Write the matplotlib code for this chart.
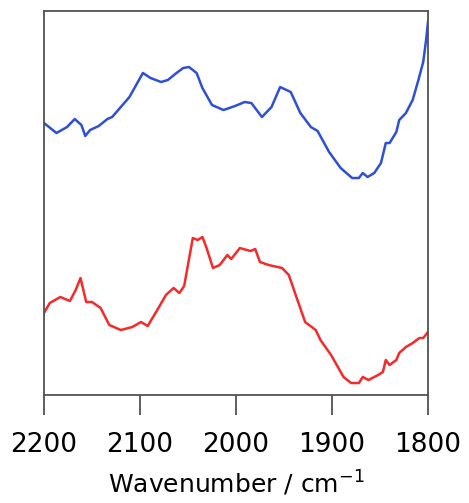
import numpy as np
import matplotlib
matplotlib.use("Agg")
import matplotlib.pyplot as plt

# Spektren (willkürliche Einheiten)
wn_blue = [2200, 2187, 2176, 2168, 2161, 2157, 2152, 2143, 2134, 2129, 2120, 2111,
           2104, 2097, 2089, 2078, 2071, 2062, 2055, 2049, 2041, 2035, 2025, 2013,
           2001, 1991, 1984, 1973, 1963, 1954, 1943, 1933, 1922, 1915, 1903, 1891,
           1879, 1872, 1868, 1863, 1856, 1849, 1844, 1840, 1833, 1830, 1823, 1816,
           1810, 1805, 1802, 1800]
a_blue = [2.72, 2.62, 2.68, 2.76, 2.70, 2.59, 2.65, 2.69, 2.76, 2.78, 2.88, 2.98,
          3.10, 3.22, 3.17, 3.13, 3.15, 3.22, 3.27, 3.28, 3.22, 3.07, 2.90, 2.85,
          2.89, 2.93, 2.92, 2.78, 2.88, 3.08, 3.03, 2.82, 2.68, 2.64, 2.43, 2.27,
          2.17, 2.17, 2.22, 2.18, 2.22, 2.32, 2.52, 2.52, 2.63, 2.75, 2.82, 2.95,
          3.15, 3.33, 3.55, 3.73]

wn_red = [2200, 2194, 2183, 2173, 2167, 2162, 2156, 2150, 2141, 2132, 2120, 2108,
          2099, 2092, 2082, 2073, 2065, 2059, 2054, 2045, 2040, 2035, 2031, 2024,
          2017, 2009, 2005, 1996, 1985, 1980, 1975, 1966, 1952, 1945, 1936, 1928,
          1917, 1912, 1901, 1888, 1880, 1872, 1868, 1862, 1852, 1847, 1844, 1840,
          1833, 1830, 1823, 1816, 1809, 1805, 1800]
a_red = [0.82, 0.92, 0.98, 0.94, 1.05, 1.17, 0.93, 0.93, 0.87, 0.70, 0.65, 0.68,
         0.73, 0.69, 0.85, 1.00, 1.07, 1.02, 1.09, 1.57, 1.55, 1.58, 1.48, 1.27,
         1.30, 1.40, 1.36, 1.47, 1.44, 1.46, 1.33, 1.30, 1.27, 1.20, 0.95, 0.73,
         0.65, 0.55, 0.40, 0.18, 0.12, 0.12, 0.18, 0.15, 0.20, 0.23, 0.35, 0.30,
         0.35, 0.42, 0.48, 0.52, 0.57, 0.57, 0.63]

xticks = [2200, 2100, 2000, 1900, 1800]

fig = plt.figure(figsize=(4.69, 5.03), dpi=100)
ax = fig.add_axes([0.0938, 0.2147, 0.8188, 0.7634])

ax.plot(wn_blue, a_blue, color='#2f4fd4', linewidth=1.8, solid_joinstyle='round')
ax.plot(wn_red, a_red, color='#f52a2a', linewidth=1.8, solid_joinstyle='round')

ax.set_xlim(2200, 1800)
ax.set_ylim(0, 3.84)
ax.set_xticks(xticks)
ax.set_xticklabels([str(t) for t in xticks])
ax.set_yticks([])

for s in ax.spines.values():
    s.set_color('#505050')
    s.set_linewidth(1.3)

ax.tick_params(axis='x', direction='out', length=14.5, width=1.3, color='#505050',
               labelsize=19, pad=12)
ax.set_xlabel('Wavenumber / cm$^{-1}$', fontsize=18, labelpad=8)

fig.savefig('out.png', dpi=100)
